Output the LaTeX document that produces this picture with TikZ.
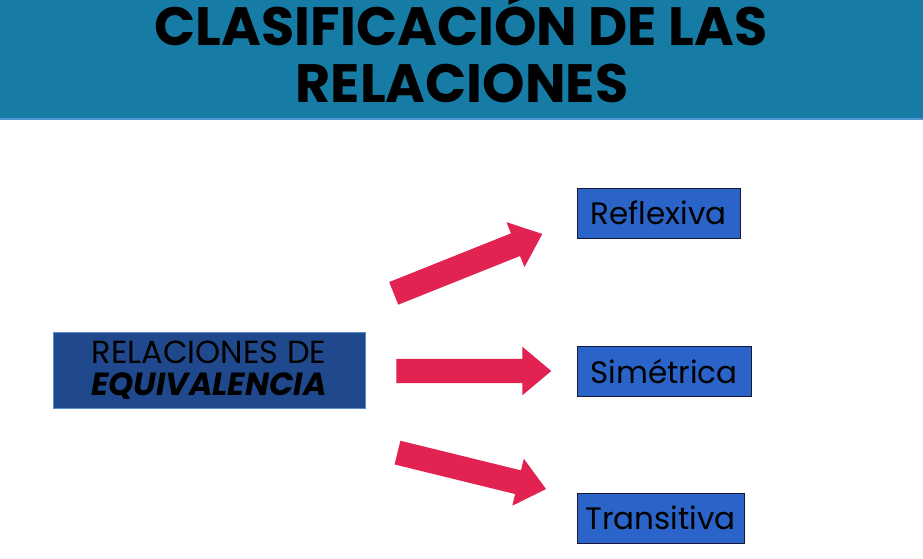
\documentclass[tikz,border=0pt]{standalone}
\usepackage{fontspec}
\setmainfont{Poppins}
\usetikzlibrary{shapes.arrows, positioning}
\definecolor{banner}{RGB}{23,124,165}
\definecolor{bannerline}{RGB}{80,150,210}
\definecolor{darkbox}{RGB}{31,73,140}
\definecolor{darkboxline}{RGB}{90,140,205}
\definecolor{boxblue}{RGB}{42,100,200}
\definecolor{boxline}{RGB}{25,25,55}
\definecolor{arrowred}{RGB}{226,34,80}

\tikzset{
  titletext/.style={font=\fontsize{54}{60}\selectfont\bfseries, anchor=base, inner sep=0pt},
  kindbox/.style={draw=boxline, fill=boxblue, line width=1pt, minimum height=50,
    inner sep=0pt, font=\fontsize{31}{36}\selectfont},
  bigarrow/.style={shape=single arrow, fill=arrowred, inner xsep=0pt, inner ysep=12pt,
    single arrow head extend=12, single arrow tip angle=80}
}

\begin{document}
\begin{tikzpicture}[x=1pt, y=-1pt]
  \useasboundingbox[fill=white] (0,0) rectangle (923,559);
  % banner
  \fill[banner] (0,0) rectangle (923,119);
  \draw[bannerline, line width=2] (0,119) -- (923,119);
  \node[titletext] (title1) at (461,46) {CLASIFICACIÓN DE LAS};
  \node[titletext] (title2) at (462,103) {RELACIONES};

  % main box
  \node[draw=darkboxline, fill=darkbox, line width=1pt, minimum width=312, minimum height=76,
    inner sep=0pt, align=center, font=\fontsize{32}{36}\selectfont] (equiv) at (209,370)
    {RELACIONES DE\\[-4pt]{\bfseries\itshape EQUIVALENCIA}};

  % kinds
  \node[kindbox, minimum width=163] (refl) at (658.5,213) {Reflexiva};
  \node[kindbox, minimum width=174] (sim) at (664,371.5) {Simétrica};
  \node[kindbox, minimum width=167] (trans) at (660.5,518) {Transitiva};

  % arrows
  \node[bigarrow, rotate=21.8, minimum height=160] (arr1) at (461.25,266.35) {};
  \node[bigarrow, minimum height=155] (arr2) at (466.5,371) {};
  \node[bigarrow, rotate=-13.8, minimum height=153] (arr3) at (464.7,469.1) {};
\end{tikzpicture}
\end{document}
